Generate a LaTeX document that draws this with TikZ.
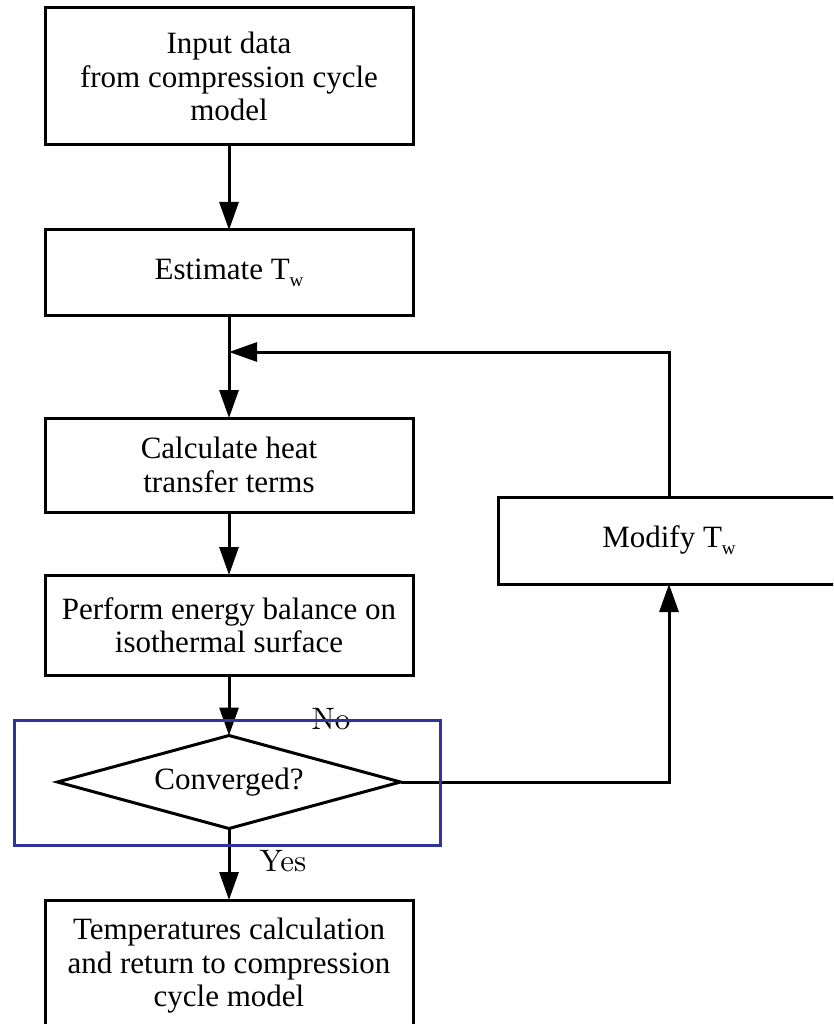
\documentclass[tikz,border=0pt]{standalone}
\usepackage{fontspec}
\usetikzlibrary{arrows.meta,shapes.geometric}
\newfontfamily\boxfont{Liberation Serif}
\definecolor{frameblue}{RGB}{50,50,155}
\newcommand{\sw}{\raisebox{-7pt}{\fontsize{19}{19}\selectfont w}}

\begin{document}
\begin{tikzpicture}[
        x=1pt, y=-1pt,
        box/.style={rectangle, draw, line width=3pt, minimum width=368pt, inner sep=0pt, outer sep=0pt,
                    align=center, font=\boxfont\fontsize{31}{33.5}\selectfont},
        decision/.style={diamond, draw, line width=3pt, aspect=3.7, minimum width=343pt, minimum height=93pt,
                    inner sep=0pt, outer sep=0pt, font=\boxfont\fontsize{31}{33.5}\selectfont},
        answer/.style={inner sep=0pt},
        highlight/.style={rectangle, draw=frameblue, line width=3pt, minimum width=426pt, minimum height=125pt},
        arrow/.style={-{Triangle[length=28pt,width=19pt]}, line width=3pt}
    ]
    \clip (0,0) rectangle (833,1024);

    % Main Column
    \node[box, minimum height=137pt] (input) at (229,76.5) {Input data\\from compression cycle\\model};
    \node[box, minimum height=85pt] (estimate) at (229,272.5) {Estimate T\sw};
    \node[box, minimum height=94pt] (heat) at (229,465) {Calculate heat\\transfer terms};
    \node[box, minimum height=100pt] (balance) at (229,625) {Perform energy balance on\\isothermal surface};
    \node[decision] (converged) at (229,782) {Converged?};
    \node[box, minimum height=132pt] (result) at (229,966) {Temperatures calculation\\and return to compression\\cycle model};

    % Loop Back
    \node[box, minimum width=342pt, minimum height=87pt] (modify) at (669,540.5) {Modify T\sw};
    \coordinate (join) at (229,352);

    % Main Flow Arrows
    \draw[arrow] (input) -- (estimate);
    \draw[arrow] (estimate) -- (heat);
    \draw[arrow] (heat) -- (balance);
    \draw[arrow] (balance) -- (converged);
    \draw[arrow] (converged) -- (result);

    % Iteration Arrows
    \draw[arrow] (converged.east) -| (modify.south);
    \draw[arrow] (modify.north) |- (join);

    % Answers
    \node[answer] (no) at (331,719) {\scalebox{3.1}{No}};
    \node[answer] (yes) at (283,861) {\scalebox{3.1}{Yes}};

    % Highlight
    \node[highlight] (hl) at (227,782.5) {};

\end{tikzpicture}
\end{document}
